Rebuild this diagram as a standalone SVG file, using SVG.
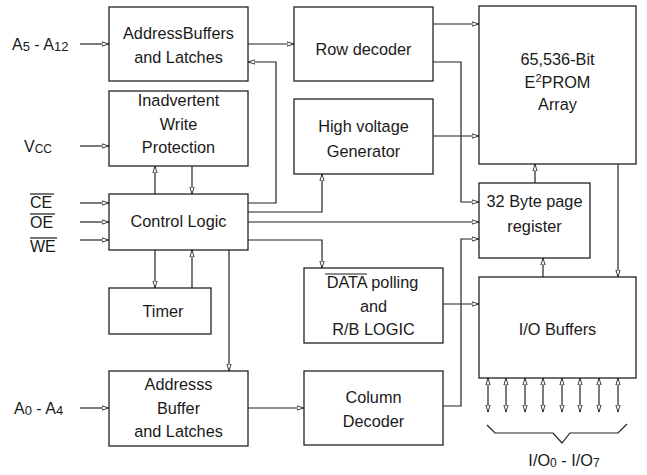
<svg xmlns="http://www.w3.org/2000/svg" width="647" height="475" viewBox="0 0 647 475">
<defs>
<marker id="ah" viewBox="0 0 8 6" refX="8" refY="3" markerWidth="7" markerHeight="5.5" orient="auto-start-reverse" markerUnits="userSpaceOnUse">
<path d="M0,0.6 L8,3 L0,5.4 z" fill="#fff" stroke="#222" stroke-width="1"/>
</marker>
<style>
.box{fill:#fff;stroke:#222;stroke-width:1.3}
.t{font-family:"Liberation Sans",Arial,sans-serif;font-size:16.3px;fill:#1a1a1a;text-anchor:middle}
.l{font-family:"Liberation Sans",Arial,sans-serif;font-size:16px;fill:#1a1a1a}
.c{fill:none;stroke:#222;stroke-width:1.2;marker-end:url(#ah)}
.n{fill:none;stroke:#222;stroke-width:1.2}
.d{fill:none;stroke:#222;stroke-width:1.2;marker-end:url(#ah);marker-start:url(#ah)}
.ov{stroke:#1a1a1a;stroke-width:1.2}
</style>
</defs>

<g id="connectors">
<path class="c" d="M80,44 H109"/>
<path class="c" d="M80,146 H109"/>
<path class="c" d="M80,203 H109"/>
<path class="c" d="M80,222 H109"/>
<path class="c" d="M80,240 H109"/>
<path class="c" d="M80,408 H109"/>
<path class="c" d="M248,44 H294"/>
<path class="c" d="M248,203 H276 V62 H248"/>
<path class="c" d="M155,194 V166"/>
<path class="c" d="M192,166 V194"/>
<path class="c" d="M155,250 V288"/>
<path class="c" d="M192,288 V250"/>
<path class="c" d="M229,250 V371"/>
<path class="c" d="M248,212 H322 V174"/>
<path class="c" d="M248,222 H479"/>
<path class="c" d="M248,240 H322 V268"/>
<path class="c" d="M433,24 H479"/>
<path class="c" d="M433,62 H461 V202 H479"/>
<path class="c" d="M433,136 H479"/>
<path class="c" d="M535,183 V164"/>
<path class="c" d="M618,164 V277"/>
<path class="c" d="M543,277 V258"/>
<path class="c" d="M443,304 H479"/>
<path class="c" d="M248,408 H304"/>
<path class="c" d="M443,406 H461 V239 H479"/>
<path class="d" d="M488,378 V412"/>
<path class="d" d="M506,378 V412"/>
<path class="d" d="M525,378 V412"/>
<path class="d" d="M543,378 V412"/>
<path class="d" d="M562,378 V412"/>
<path class="d" d="M580,378 V412"/>
<path class="d" d="M599,378 V412"/>
<path class="d" d="M618,378 V412"/>
<path class="n" d="M487,425 L495,433 H553 L562,443 L570,433 H618 L627,424"/>
</g>

<g id="addr-hi">
<rect class="box" x="109" y="7" width="139" height="74"/>
<text class="t" x="178.5" y="39">AddressBuffers</text>
<text class="t" x="178.5" y="63">and Latches</text>
</g>
<g id="iwp">
<rect class="box" x="109" y="91" width="139" height="75"/>
<text class="t" x="178.5" y="106">Inadvertent</text>
<text class="t" x="178.5" y="130">Write</text>
<text class="t" x="178.5" y="153">Protection</text>
</g>
<g id="ctrl">
<rect class="box" x="109" y="194" width="139" height="56"/>
<text class="t" x="178.5" y="227">Control Logic</text>
</g>
<g id="timer">
<rect class="box" x="109" y="288" width="102" height="46"/>
<text class="t" x="163" y="317">Timer</text>
</g>
<g id="addr-lo">
<rect class="box" x="109" y="371" width="139" height="75"/>
<text class="t" x="178.5" y="390">Addresss</text>
<text class="t" x="178.5" y="414">Buffer</text>
<text class="t" x="178.5" y="437">and Latches</text>
</g>
<g id="rowdec">
<rect class="box" x="294" y="7" width="139" height="74"/>
<text class="t" x="363.5" y="55">Row decoder</text>
</g>
<g id="hvgen">
<rect class="box" x="294" y="99" width="139" height="75"/>
<text class="t" x="363.5" y="132">High voltage</text>
<text class="t" x="363.5" y="157">Generator</text>
</g>
<g id="array">
<rect class="box" x="479" y="6" width="157" height="158"/>
<text class="t" x="557.5" y="65">65,536-Bit</text>
<text class="t" x="557.5" y="88">E<tspan font-size="11" dy="-6">2</tspan><tspan dy="6">PROM</tspan></text>
<text class="t" x="557.5" y="110">Array</text>
</g>
<g id="pagereg">
<rect class="box" x="479" y="183" width="111" height="75"/>
<text class="t" x="534.5" y="207">32 Byte page</text>
<text class="t" x="534.5" y="232">register</text>
</g>
<g id="datapoll">
<rect class="box" x="304" y="268" width="139" height="75"/>
<text class="t" x="372.5" y="288">DATA polling</text>
<line class="ov" x1="325" y1="274" x2="367" y2="274"/>
<text class="t" x="373.5" y="312">and</text>
<text class="t" x="373.5" y="335">R/B LOGIC</text>
</g>
<g id="iobuf">
<rect class="box" x="479" y="277" width="157" height="101"/>
<text class="t" x="557.5" y="335">I/O Buffers</text>
</g>
<g id="coldec">
<rect class="box" x="304" y="371" width="139" height="74"/>
<text class="t" x="373.5" y="403">Column</text>
<text class="t" x="373.5" y="427">Decoder</text>
</g>

<g id="labels">
<text class="l" x="12" y="50">A<tspan font-size="13" dy="1">5</tspan><tspan dy="-1"> - A</tspan><tspan font-size="13" dy="1">12</tspan></text>
<text class="l" x="24" y="152">V<tspan font-size="12" dy="1">CC</tspan></text>
<text class="l" x="30" y="208">CE</text>
<line class="ov" x1="30" y1="194" x2="54" y2="194"/>
<text class="l" x="30" y="228">OE</text>
<line class="ov" x1="30" y1="214" x2="55" y2="214"/>
<text class="l" x="30" y="252">WE</text>
<line class="ov" x1="30" y1="238" x2="57" y2="238"/>
<text class="l" x="14" y="414">A<tspan font-size="13" dy="1">0</tspan><tspan dy="-1"> - A</tspan><tspan font-size="13" dy="1">4</tspan></text>
<text class="t" x="564" y="466" font-size="14.5">I/O<tspan font-size="12" dy="1">0</tspan><tspan dy="-1"> - I/O</tspan><tspan font-size="12" dy="1">7</tspan></text>
</g>
</svg>
